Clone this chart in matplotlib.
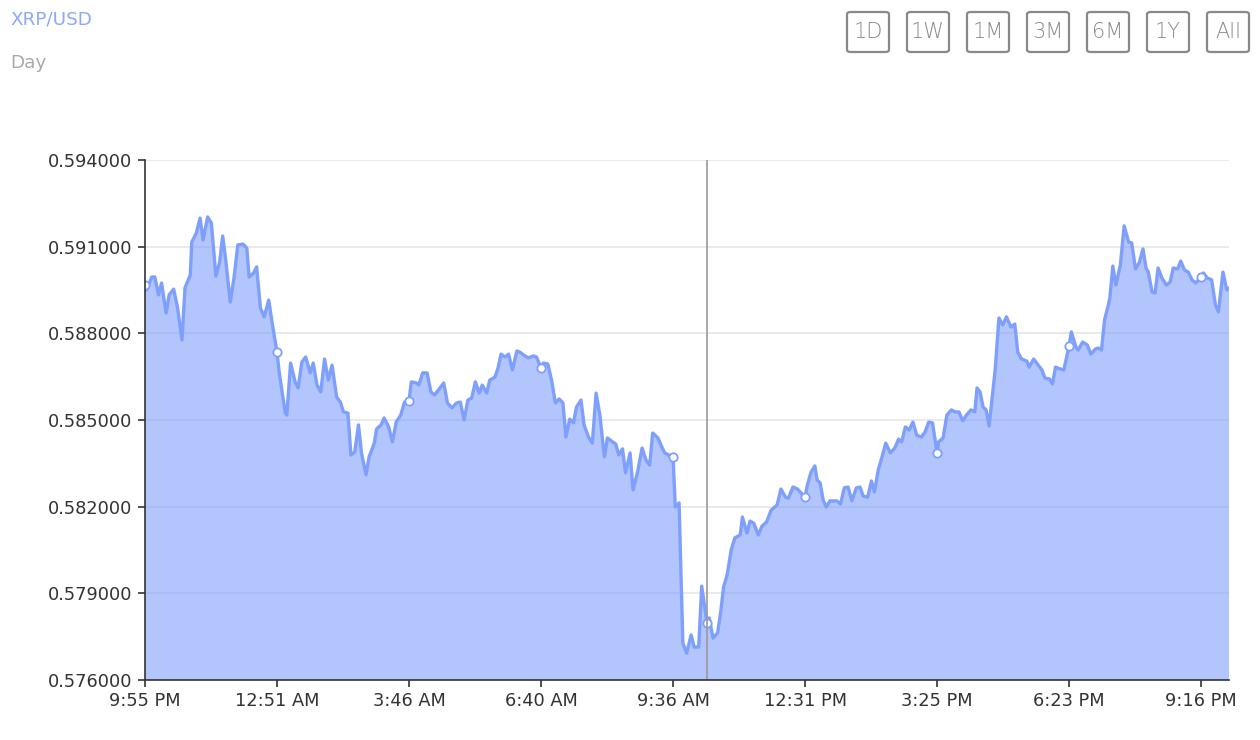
import matplotlib
matplotlib.use("Agg")
import matplotlib.pyplot as plt
from matplotlib.patches import FancyBboxPatch
from matplotlib.ticker import FormatStrFormatter

# minutes since 9:55 PM and XRP/USD price
times = [0, 2, 9, 13, 18, 22, 28, 32, 38, 43, 49, 53, 60, 62, 68, 73, 77, 83, 88, 94,
         99, 103, 107, 113, 118, 123, 130, 135, 138, 144, 148, 153, 158, 164, 169, 175, 178, 186, 188, 193,
         199, 203, 208, 213, 219, 223, 228, 233, 238, 243, 248, 254, 259, 263, 269, 273, 278, 283, 287, 293,
         297, 304, 307, 313, 317, 323, 328, 333, 339, 344, 350, 353, 360, 363, 368, 374, 379, 384, 389, 396,
         401, 407, 413, 418, 423, 428, 433, 438, 443, 447, 453, 457, 464, 468, 472, 477, 482, 487, 493, 497,
         502, 508, 515, 519, 525, 528, 534, 539, 544, 549, 554, 558, 563, 568, 572, 578, 582, 588, 593, 598,
         603, 609, 613, 620, 624, 628, 633, 637, 643, 647, 653, 659, 664, 669, 673, 680, 685, 689, 700, 703,
         708, 713, 718, 724, 728, 734, 738, 745, 748, 753, 759, 763, 767, 772, 777, 782, 789, 792, 798, 802,
         807, 813, 818, 824, 830, 838, 843, 849, 853, 859, 865, 875, 878, 883, 888, 891, 895, 899, 903, 908,
         917, 922, 927, 932, 937, 943, 948, 952, 958, 963, 967, 972, 977, 982, 988, 994, 999, 1003, 1008, 1013,
         1018, 1023, 1029, 1034, 1039, 1044, 1050, 1052, 1058, 1063, 1069, 1074, 1079, 1084, 1089, 1095, 1100, 1103, 1107, 1111,
         1115, 1119, 1123, 1127, 1132, 1137, 1142, 1148, 1153, 1157, 1162, 1169, 1172, 1178, 1184, 1189, 1193, 1199, 1203, 1207,
         1213, 1218, 1225, 1228, 1234, 1237, 1243, 1249, 1254, 1260, 1264, 1268, 1272, 1277, 1279, 1283, 1287, 1293, 1298, 1304,
         1308, 1313, 1318, 1323, 1327, 1330, 1335, 1339, 1343, 1348, 1354, 1359, 1363, 1369, 1373, 1378, 1383, 1388, 1393, 1400,
         1403, 1408, 1414, 1419, 1423, 1429, 1434, 1437]

prices = [0.58967, 0.58950, 0.58995, 0.58995, 0.58933, 0.58974, 0.58870, 0.58933, 0.58953, 0.58891,
          0.58777, 0.58957, 0.59002, 0.59116, 0.59147, 0.59199, 0.59123, 0.59203, 0.59182, 0.58998,
          0.59047, 0.59137, 0.59054, 0.58908, 0.58992, 0.59106, 0.59109, 0.59095, 0.58995, 0.59009,
          0.59030, 0.58888, 0.58857, 0.58915, 0.58829, 0.58735, 0.58663, 0.58524, 0.58517, 0.58697,
          0.58632, 0.58611, 0.58701, 0.58718, 0.58663, 0.58697, 0.58621, 0.58597, 0.58711, 0.58638,
          0.58690, 0.58580, 0.58562, 0.58528, 0.58524, 0.58379, 0.58389, 0.58483, 0.58386, 0.58310,
          0.58372, 0.58420, 0.58469, 0.58483, 0.58507, 0.58476, 0.58424, 0.58493, 0.58517, 0.58562,
          0.58566, 0.58632, 0.58628, 0.58621, 0.58663, 0.58663, 0.58597, 0.58587, 0.58604, 0.58628,
          0.58559, 0.58542, 0.58559, 0.58562, 0.58500, 0.58569, 0.58576, 0.58632, 0.58593, 0.58621,
          0.58593, 0.58638, 0.58649, 0.58680, 0.58728, 0.58718, 0.58728, 0.58673, 0.58739, 0.58735,
          0.58725, 0.58715, 0.58722, 0.58718, 0.58680, 0.58697, 0.58694, 0.58638, 0.58559, 0.58573,
          0.58559, 0.58441, 0.58503, 0.58490, 0.58545, 0.58569, 0.58483, 0.58441, 0.58420, 0.58593,
          0.58517, 0.58372, 0.58438, 0.58424, 0.58417, 0.58379, 0.58400, 0.58317, 0.58386, 0.58258,
          0.58320, 0.58403, 0.58362, 0.58344, 0.58455, 0.58438, 0.58407, 0.58386, 0.58372, 0.58199,
          0.58213, 0.57728, 0.57693, 0.57756, 0.57714, 0.57714, 0.57925, 0.57797, 0.57815, 0.57745,
          0.57763, 0.57832, 0.57922, 0.57967, 0.58050, 0.58092, 0.58102, 0.58164, 0.58109, 0.58150,
          0.58143, 0.58102, 0.58133, 0.58147, 0.58188, 0.58206, 0.58261, 0.58233, 0.58230, 0.58268,
          0.58261, 0.58233, 0.58275, 0.58320, 0.58341, 0.58292, 0.58282, 0.58223, 0.58199, 0.58220,
          0.58220, 0.58209, 0.58265, 0.58268, 0.58220, 0.58265, 0.58268, 0.58237, 0.58233, 0.58289,
          0.58251, 0.58327, 0.58372, 0.58420, 0.58386, 0.58403, 0.58434, 0.58424, 0.58476, 0.58465,
          0.58493, 0.58448, 0.58441, 0.58458, 0.58493, 0.58490, 0.58386, 0.58424, 0.58438, 0.58517,
          0.58535, 0.58528, 0.58528, 0.58497, 0.58517, 0.58535, 0.58528, 0.58611, 0.58597, 0.58545,
          0.58535, 0.58479, 0.58576, 0.58673, 0.58853, 0.58829, 0.58857, 0.58822, 0.58832, 0.58735,
          0.58711, 0.58704, 0.58683, 0.58711, 0.58690, 0.58673, 0.58645, 0.58642, 0.58625, 0.58683,
          0.58677, 0.58673, 0.58756, 0.58805, 0.58753, 0.58742, 0.58770, 0.58760, 0.58728, 0.58746,
          0.58749, 0.58742, 0.58846, 0.58898, 0.58922, 0.59033, 0.58967, 0.59037, 0.59172, 0.59116,
          0.59113, 0.59023, 0.59044, 0.59092, 0.59026, 0.59012, 0.58943, 0.58940, 0.59026, 0.58992,
          0.58967, 0.58978, 0.59026, 0.59023, 0.59050, 0.59019, 0.59012, 0.58985, 0.58974, 0.58995,
          0.59009, 0.58992, 0.58985, 0.58898, 0.58874, 0.59012, 0.58950, 0.58957]

tick_times = [0, 175, 350, 525, 700, 875, 1050, 1225, 1400]
tick_labels = ["9:55 PM", "12:51 AM", "3:46 AM", "6:40 AM", "9:36 AM",
               "12:31 PM", "3:25 PM", "6:23 PM", "9:16 PM"]
y_ticks = [0.576, 0.579, 0.582, 0.585, 0.588, 0.591, 0.594]
hover_time = 745
buttons = ["1D", "1W", "1M", "3M", "6M", "1Y", "All"]

line_color = "#7f9ffc"

fig = plt.figure(figsize=(12.6, 7.4), dpi=100)
ax = fig.add_axes([145 / 1260, 1 - 680 / 740, (1229 - 145) / 1260, 520 / 740])

ax.fill_between(times, prices, 0.5, color=line_color, alpha=0.6, lw=0, zorder=2)
ax.plot(times, prices, color=line_color, lw=2.4, zorder=3,
        solid_joinstyle="round", solid_capstyle="round")

# symbols shown at the label positions plus the hovered point
mark_t = [t for t in times if t in tick_times or t == hover_time]
mark_p = [p for t, p in zip(times, prices) if t in tick_times or t == hover_time]
ax.plot(mark_t, mark_p, "o", ms=6, mfc="white", mec=line_color, mew=1.3, zorder=4)

ax.axvline(hover_time, color="#999999", lw=1.2, zorder=5)

ax.set_xlim(0, times[-1])
ax.set_ylim(0.576, 0.594)
ax.set_yticks(y_ticks)
ax.yaxis.set_major_formatter(FormatStrFormatter("%.6f"))
ax.set_xticks(tick_times)
ax.set_xticklabels(tick_labels)
ax.grid(axis="y", color="#e4e4e4", lw=1.1, zorder=1)
ax.set_axisbelow(True)

for s in ["top", "right"]:
    ax.spines[s].set_visible(False)
for s in ["left", "bottom"]:
    ax.spines[s].set_color("#333333")
    ax.spines[s].set_linewidth(1.2)
    ax.spines[s].set_zorder(6)
ax.tick_params(axis="both", colors="#333333", labelsize=12.8, length=5, width=1.2, pad=4)

fig.text(10 / 1260, 1 - 20 / 740, "XRP/USD", color="#8ea8fb", fontsize=13.2, va="center", ha="left")
fig.text(10 / 1260, 1 - 63 / 740, "Day", color="#aaaaaa", fontsize=13.2, va="center", ha="left")

for i, b in enumerate(buttons):
    x0 = 847 + 60 * i
    box = FancyBboxPatch((x0 / 1260, 1 - 52 / 740), 42 / 1260, 40 / 740,
                         boxstyle="round,pad=0,rounding_size=0.003",
                         transform=fig.transFigure, fc="white", ec="#888888", lw=1.6)
    fig.patches.append(box)
    fig.text((x0 + 21) / 1260, 1 - 32 / 740, b, color="#888888", fontsize=15,
             ha="center", va="center", fontweight="light")

fig.savefig("out.png", dpi=100)
